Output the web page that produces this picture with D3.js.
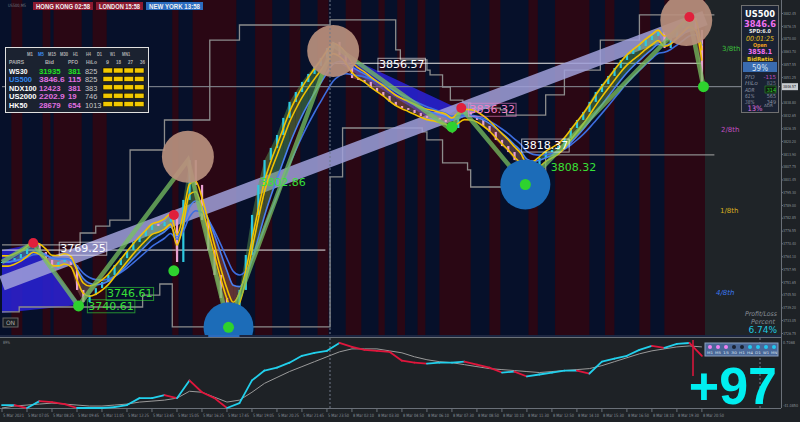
<!DOCTYPE html>
<html><head><meta charset="utf-8">
<script src="https://cdn.jsdelivr.net/npm/d3@7"></script>
<style>body{margin:0;background:#1e2226;overflow:hidden}svg{display:block}</style>
</head><body><svg id="c" width="800" height="422"></svg>
<script>
// ---------- DATA ----------
const closes = [3761.3,3761.3,3763.2,3765.2,3768.1,3770.1,3766.2,3762.3,3758.4,3761.3,
3763.2,3759.8,3747.7,3741.8,3745.2,3748.6,3751.6,3755.0,3759.8,3763.2,
3767.1,3771.0,3774.0,3776.9,3779.8,3778.8,3780.8,3784.2,3761.3,3791.5,
3810.9,3798.8,3781.7,3767.1,3755.0,3743.8,3735.5,3732.1,3747.7,3764.7,
3784.2,3798.8,3810.9,3816.8,3823.1,3831.4,3839.2,3844.0,3848.9,3852.8,
3856.7,3860.6,3865.4,3868.4,3862.0,3857.2,3850.8,3849.9,3848.9,3846.0,
3844.0,3842.1,3839.2,3837.2,3836.2,3835.3,3833.8,3832.3,3831.4,3831.4,
3830.4,3829.4,3826.5,3833.3,3834.3,3832.3,3830.4,3827.5,3824.6,3820.7,
3817.7,3814.8,3810.9,3808.0,3801.2,3808.0,3811.9,3814.8,3815.8,3817.7,
3821.6,3826.5,3830.4,3834.3,3839.2,3844.0,3847.9,3851.8,3855.7,3859.6,
3862.5,3864.5,3866.4,3869.3,3871.3,3873.2,3865.4,3870.3,3875.2,3878.1,
3880.0,3874.2,3846.6];
const barStep = 4;
const priceTicks = [3882.45,3876.15,3870.00,3863.70,3857.55,3851.25,3838.80,3832.65,3826.35,3820.20,3813.90,3807.75,3801.45,3795.30,3789.00,3782.85,3776.55,3770.40,3764.10,3757.95,3751.65,3745.50,3739.20,3733.05,3726.75];
const timeLabels = ["5 Mar 2021","5 Mar 07:05","5 Mar 08:25","5 Mar 09:45","5 Mar 11:05","5 Mar 12:25","5 Mar 13:45","5 Mar 15:05","5 Mar 16:25","5 Mar 17:45","5 Mar 19:05","5 Mar 20:25","5 Mar 21:45","5 Mar 23:50","8 Mar 02:10","8 Mar 03:30","8 Mar 04:50","8 Mar 06:10","8 Mar 07:30","8 Mar 08:50","8 Mar 10:10","8 Mar 11:30","8 Mar 12:50","8 Mar 14:10","8 Mar 15:30","8 Mar 16:50","8 Mar 18:10","8 Mar 19:30","8 Mar 20:50"];
const sessionStripes = [[6,13],[26,31],[33,51],[58,67],[109,113],[122,150],[162,173],[184,191],[202,209],[220,230],[241,245],[253,258],[266,271],[280,300],[312,319],[337,343],[354,376],[386,392],[408,415],[424,450]];
// channel step lines: [startBar, price]
const upperChannel = [[0,3769.6],[50,3775.4],[60,3778.8],[69,3781.7],[82,3815.8],[104,3830.4],[133,3869.3],[152,3876.6],[210,3879.1],[252,3864.5],[255,3859.6],[272,3854.7],[274,3852.3],[282,3846.4],[287,3840.1],[295,3838.7],[300,3836.2],[319,3835.3],[323,3832.8],[348,3842.6],[360,3854.7],[383,3869.3],[408,3881.5],[456,3881.5]];
const lowerChannel = [[0,3737.0],[11,3739.4],[90,3745.2],[101,3750.6],[109,3729.7],[210,3802.7],[218,3826.5],[269,3824.6],[272,3820.7],[282,3809.5],[298,3806.1],[300,3797.8],[348,3813.4],[456,3813.4]];
const zigzag = [[0,3761.3],[20,3770.5],[49,3739.9],[119,3810.9],[145,3730.2],[212,3866.9],[288,3825.5],[294,3836.2],[335,3798.8],[440,3880.5],[449,3846.6]];
const highCircles = [[119,3812.5],[212,3864.0],[438,3879.0]];
const lowCircles = [[145,3729.5],[335,3799.0]];
const highDots = [[20,3770.5],[110,3784.2],[294,3836.2],[440,3880.5]];
const lowDots = [[49,3739.9],[110,3757.0],[145,3729.5],[288,3827.0],[335,3799.0],[449,3846.6]];
const trendLine = [[0,3751.0],[450,3880.0]];
const levelLines = [[0,207,3767.1,"#e8e8e8"],[210,448,3858.0,"#e8e8e8"],[0,498,3846.6,"#8a9099"]];
const priceTags = [[36,3768.0,"3769.25","#ffffff",true],[66,3746.0,"3746.61","#38e038",true],[54,3740.0,"3740.61","#38e038",true],[164,3800.2,"3802.86","#38e038",false],[240,3857.5,"3856.57","#ffffff",true],[298,3835.6,"3836.32","#f080c8",true],[332,3818.2,"3818.37","#ffffff",true],[350,3807.4,"3808.32","#38e038",false]];
const bluePolys = [[[0,3767.0],[20,3770.0],[50,3740.5],[0,3736.5]],[[216,3863.0],[292,3836.0],[278,3829.0],[216,3858.0]]];
const oscMain = [-39.25,-39.25,-41.09,-36.79,-37.40,-38.63,-41.09,-41.09,-41.09,-40.48,-39.25,-34.94,-34.94,-33.10,-34.94,-23.88,-31.26,-34.94,-41.09,-38.02,-23.88,-17.73,-15.89,-12.82,-8.52,-6.67,-5.44,-0.53,-2.98,-4.83,-5.44,-6.06,-11.59,-12.82,-13.43,-12.82,-12.82,-12.20,-14.05,-15.89,-18.96,-18.35,-21.42,-20.19,-18.96,-17.73,-17.73,-19.58,-12.20,-10.36,-8.52,-4.83,-2.37,-3.60,-1.14,-0.53,-8.52];
const oscSignal = [-41.09,-39.86,-39.25,-38.63,-38.02,-38.63,-39.25,-39.86,-39.86,-39.25,-38.63,-37.40,-36.79,-36.17,-34.94,-30.64,-31.26,-34.33,-37.40,-36.17,-31.26,-25.72,-22.04,-18.35,-15.28,-12.20,-9.13,-6.06,-4.21,-4.21,-4.21,-5.44,-6.67,-9.13,-10.97,-12.20,-12.82,-14.05,-15.28,-16.51,-17.12,-17.73,-18.35,-18.96,-18.35,-17.73,-17.12,-16.51,-14.66,-12.20,-9.75,-7.29,-5.44,-4.21,-2.98,-2.37,-2.98];
const oscStep = 8;
const pairs = ["WS30","US500","NDX100","US2000","HK50"];
const bids = ["31935","3846.6","12423","2202.9","28679"];
const pfo = ["381","115","381","19","654"];
const hilo = ["825","825","383","746","1013"];
const tfs = ["M1","M5","M15","M30","H1","H4","D1","W1","MN1"];

// ---------- SETUP ----------
const svg = d3.select("#c");
const plotR = 781, mainBot = 335, subTop = 338, subBot = 408, futureX = 705;
const x = d3.scaleLinear().domain([0,498]).range([2,780]);
const y = d3.scaleLinear().domain([3726.75,3882.45]).range([333,13]);
const yo = d3.scaleLinear().domain([-41.085,0.7068]).range([408,341]);
const F = "'DejaVu Sans', sans-serif";
const FN = "'Liberation Sans', Arial, sans-serif";
function fit(sel,w){sel.attr("textLength",w).attr("lengthAdjust","spacingAndGlyphs");return sel;}

svg.append("rect").attr("width",800).attr("height",422).attr("fill","#1e2226");
svg.append("clipPath").attr("id","mc").append("rect").attr("x",0).attr("y",0).attr("width",plotR).attr("height",mainBot);
const g = svg.append("g").attr("clip-path","url(#mc)");
g.append("rect").attr("width",plotR).attr("height",mainBot).attr("fill","#06102a");
g.selectAll(".st").data(sessionStripes).join("rect").attr("x",d=>x(d[0])).attr("width",d=>x(d[1])-x(d[0])).attr("y",0).attr("height",mainBot).attr("fill","#2a0714");
g.append("rect").attr("x",futureX).attr("width",plotR-futureX).attr("height",mainBot).attr("fill","#1f2428");

// blue fills
g.selectAll(".bp").data(bluePolys).join("path").attr("d",d=>d3.line().x(p=>x(p[0])).y(p=>y(p[1]))(d)+"Z").attr("fill","#2a22d8").attr("opacity",0.85);

// channel step lines
const stepLine = d3.line().x(d=>x(d[0])).y(d=>y(d[1])).curve(d3.curveStepAfter);
[upperChannel,lowerChannel].forEach(c=>g.append("path").attr("d",stepLine(c)).attr("fill","none").attr("stroke","#8c8c8c").attr("stroke-width",1.3));

// level lines
g.selectAll(".lv").data(levelLines).join("line").attr("x1",d=>x(d[0])).attr("x2",d=>x(d[1])).attr("y1",d=>y(d[2])).attr("y2",d=>y(d[2])).attr("stroke",d=>d[3]).attr("stroke-width",1);

// trend band
g.append("line").attr("x1",x(trendLine[0][0])).attr("y1",y(trendLine[0][1])).attr("x2",x(trendLine[1][0])).attr("y2",y(trendLine[1][1])).attr("stroke","#a0a0da").attr("stroke-width",15).attr("opacity",0.85);

// EMAs
function ema(arr,n){const k=2/(n+1);let out=[];arr.forEach((v,i)=>out.push(i?out[i-1]+k*(v-out[i-1]):v));return out;}
const e3=ema(closes,3), e6=ema(closes,6), e9=ema(closes,9);
for(let i=1;i<closes.length;i++){
  const up = closes[i]>=e6[i];
  g.append("path").attr("d",`M${x((i-1)*barStep)},${y(closes[i-1])}L${x(i*barStep)},${y(closes[i])}L${x(i*barStep)},${y(e6[i])}L${x((i-1)*barStep)},${y(e6[i-1])}Z`)
   .attr("fill",up?"#5aa050":"#a06a5a").attr("opacity",0.45);
}
// candles
g.selectAll(".cd").data(closes).join("rect")
 .attr("x",(d,i)=>x(i*barStep)-1).attr("width",2.2)
 .attr("y",(d,i)=>y(Math.max(d,closes[Math.max(0,i-1)])))
 .attr("height",(d,i)=>Math.max(1,Math.abs(y(d)-y(closes[Math.max(0,i-1)]))))
 .attr("fill",(d,i)=>d>=closes[Math.max(0,i-1)]?"#2ec8e0":"#e8a0d0");
const ml = d3.line().x((d,i)=>x(i*barStep)).y(d=>y(d)).curve(d3.curveMonotoneX);
g.append("path").attr("d",ml(e9)).attr("fill","none").attr("stroke","#3d6ee0").attr("stroke-width",1.6);
g.append("path").attr("d",ml(e6)).attr("fill","none").attr("stroke","#4a80f0").attr("stroke-width",1.6);
g.append("path").attr("d",ml(e3.map(v=>v+3))).attr("fill","none").attr("stroke","#f2c200").attr("stroke-width",1.6);
g.append("path").attr("d",ml(e3.map(v=>v-2))).attr("fill","none").attr("stroke","#f2c200").attr("stroke-width",1.6);

// zigzag
g.append("path").attr("d",d3.line().x(d=>x(d[0])).y(d=>y(d[1]))(zigzag)).attr("fill","none").attr("stroke","#78c060").attr("stroke-width",4.5).attr("opacity",0.75);

// circles
g.selectAll(".hc").data(highCircles).join("circle").attr("cx",d=>x(d[0])).attr("cy",d=>y(d[1])).attr("r",26).attr("fill","#b8907e").attr("opacity",0.92);
g.selectAll(".lc").data(lowCircles).join("circle").attr("cx",d=>x(d[0])).attr("cy",d=>y(d[1])).attr("r",25).attr("fill","#1c6cb8");
g.selectAll(".hd").data(highDots).join("circle").attr("cx",d=>x(d[0])).attr("cy",d=>y(d[1])).attr("r",5).attr("fill","#e0203c");
g.selectAll(".ld").data(lowDots).join("circle").attr("cx",d=>x(d[0])).attr("cy",d=>y(d[1])).attr("r",5.5).attr("fill","#2ed22e");

// price tags
priceTags.forEach(t=>{
  const tx=x(t[0]), ty=y(t[1]);
  const txt=g.append("text").attr("x",tx+2).attr("y",ty+4).attr("fill",t[3]).attr("font-family",F).attr("font-size",11).text(t[2]);
  if(t[4]){const bb=txt.node().getBBox();g.insert("rect","text").attr("x",bb.x-1).attr("y",bb.y).attr("width",bb.width+2).attr("height",bb.height).attr("fill","none").attr("stroke",t[3]).attr("stroke-opacity",0.6);}
});

// right side labels
const rl=[["3/8th",722,51,"#3cc03c"],["2/8th",721,132,"#c050c0"],["1/8th",720,213,"#d8b020"],["4/8th",716,295,"#3a78f0"]];
rl.forEach(r=>g.append("text").attr("x",r[1]).attr("y",r[2]).attr("fill",r[3]).attr("font-family",F).attr("font-size",7).attr("font-style",r[0]=="4/8th"?"italic":"normal").text(r[0]));
fit(g.append("text").attr("x",745).attr("y",316).attr("fill","#8a9099").attr("font-family",F).attr("font-style","italic").attr("font-size",6.5).text("Profit/Loss"),32);
fit(g.append("text").attr("x",751).attr("y",324).attr("fill","#8a9099").attr("font-family",F).attr("font-style","italic").attr("font-size",6.5).text("Percent"),24);
g.append("text").attr("x",777).attr("y",333).attr("text-anchor","end").attr("fill","#20c8e0").attr("font-family",F).attr("font-size",9).text("6.74%");

// ON button
g.append("rect").attr("x",3).attr("y",318).attr("width",15).attr("height",9).attr("fill","#1a1d22").attr("stroke","#666");
g.append("text").attr("x",10.5).attr("y",325).attr("text-anchor","middle").attr("fill","#aaa").attr("font-family",F).attr("font-size",6).text("ON");

// pairs table
const tb=g.append("g");
tb.append("rect").attr("x",5.5).attr("y",47.5).attr("width",143).attr("height",65).attr("fill","#1b2230").attr("stroke","#e0e0e0");
const tfx=[27,38,48,60,73,86,97,110,122];
const tfw=[6,6,8,8,5,5,5,5,8];
tfs.forEach((t,i)=>fit(tb.append("text").attr("x",tfx[i]).attr("y",56).attr("fill",t=="M5"?"#3b8ff0":"#b0b0b0").attr("font-family",FN).attr("font-size",6).attr("font-weight","bold").text(t),tfw[i]));
[["PAIRS",9,15],["Bid",45,9],["PFO",68,10],["HiLo",86,11],["9",106,3],["18",116,5],["27",128,5],["36",140,5]].forEach(h=>fit(tb.append("text").attr("x",h[1]).attr("y",64).attr("fill","#b0b0b0").attr("font-family",FN).attr("font-size",6).attr("font-weight","bold").text(h[0]),h[2]));
pairs.forEach((p,i)=>{
  const yy=74+i*8.4;
  fit(tb.append("text").attr("x",9).attr("y",yy).attr("fill",i==1?"#2f86f0":"#ffffff").attr("font-family",FN).attr("font-weight","bold").attr("font-size",8).text(p),p.length*4.6);
  fit(tb.append("text").attr("x",39).attr("y",yy).attr("fill",i==0?"#22e022":"#e070e0").attr("font-family",FN).attr("font-weight","bold").attr("font-size",8).text(bids[i]),bids[i].length*4.3);
  fit(tb.append("text").attr("x",68).attr("y",yy).attr("fill",i==0?"#22e022":"#e070e0").attr("font-family",FN).attr("font-weight","bold").attr("font-size",8).text(pfo[i]),pfo[i].length*4.3);
  fit(tb.append("text").attr("x",85).attr("y",yy).attr("fill","#c8c8c8").attr("font-family",FN).attr("font-size",8).text(hilo[i]),hilo[i].length*4.1);
  for(let j=0;j<4;j++) tb.append("rect").attr("x",103+j*10.5).attr("y",yy-6).attr("width",9.5).attr("height",5).attr("fill","#f2c800").attr("stroke","#000").attr("stroke-width",0.5);
});

// info box
const ib=g.append("g");
ib.append("rect").attr("x",741.5).attr("y",5.5).attr("width",37).attr("height",107).attr("fill","#1a2233").attr("stroke","#707070");
const it=(t,xx,yy,c,s,opt={})=>{const e=ib.append("text").attr("x",xx).attr("y",yy).attr("text-anchor",opt.a||"middle").attr("fill",c).attr("font-family",opt.f||F).attr("font-size",s).attr("font-weight",opt.w||"normal").attr("font-style",opt.i?"italic":"normal").text(t); if(opt.l) fit(e,opt.l); return e;};
it("US500",760,17,"#ffffff",9,{w:"bold",l:30});
it("3846.6",760,27,"#f070f0",9,{w:"bold",l:32});
it("SPD:6.0",760,33,"#e8e8e8",5.5,{w:"bold",l:22});
it("00:01:25",760,41,"#e8c020",7,{i:true,l:28});
it("Open",760,47,"#f0a020",5.5,{w:"bold",l:14});
it("3858.1",760,54,"#f070f0",7,{w:"bold",l:24});
ib.append("rect").attr("x",742).attr("y",56).attr("width",36).attr("height",6).attr("fill","#20242c");
it("BidRatio",760,61,"#e8c020",5.5,{w:"bold",l:26});
ib.append("rect").attr("x",743).attr("y",62).attr("width",34).attr("height",10).attr("fill","#3a6cb0");
it("59%",760,70.5,"#d8e4f4",8.5,{l:16});
[["PFO","-115","#c050c0",79],["HiLo","825","#707888",85],["ADR","314","#30d030",91.5],["61%","565","#8890a0",98],["38%","349","#8890a0",104]].forEach(r=>{
  it(r[0],745,r[3],"#8890a0",5.5,{a:"start",i:true,l:r[0].length*3.2});
  if(r[0]=="ADR") ib.append("rect").attr("x",765).attr("y",r[3]-5.5).attr("width",11).attr("height",7).attr("fill","#102010").attr("stroke","#30a030").attr("stroke-width",0.5);
  it(r[1],776,r[3],r[2],5.5,{a:"end",l:r[1].length*3.1});
});
it("13%",755,111,"#e070e0",7.5,{l:15});
it("ADR",764,107,"#8890a0",4,{a:"start",l:9});

// dashed separator
g.append("line").attr("x1",330).attr("x2",330).attr("y1",0).attr("y2",mainBot).attr("stroke","#707888").attr("stroke-dasharray","2,2");

// top status bar
fit(svg.append("text").attr("x",8).attr("y",7).attr("fill","#707880").attr("font-family",F).attr("font-size",4.5).text("US500,M5"),18);
[["HONG KONG 02:58",33,60,"#8b1a30"],["LONDON 15:58",96,47,"#8b1a30"],["NEW YORK 13:58",146,57,"#2a6cc0"]].forEach(b=>{
  svg.append("rect").attr("x",b[1]).attr("y",2).attr("width",b[2]).attr("height",8).attr("fill",b[3]);
  fit(svg.append("text").attr("x",b[1]+3).attr("y",8.5).attr("fill","#f0f0f0").attr("font-family",FN).attr("font-weight","bold").attr("font-size",6.5).text(b[0]),b[2]-6);
});

// main right axis
svg.append("line").attr("x1",plotR+0.5).attr("x2",plotR+0.5).attr("y1",0).attr("y2",subBot).attr("stroke","#6a7078");
const ax=d3.axisRight(y).tickValues(priceTicks).tickSize(2).tickPadding(0).tickFormat(d3.format(".2f"));
const axg=svg.append("g").attr("transform",`translate(${plotR},0)`).call(ax);
axg.select(".domain").remove();
axg.selectAll("text").attr("fill","#8a9099").attr("font-family",F).attr("font-size",4).attr("textLength",13).attr("lengthAdjust","spacingAndGlyphs");
axg.selectAll("line").attr("stroke","#6a7078");
svg.append("rect").attr("x",782).attr("y",y(3846.6)-3.5).attr("width",16).attr("height",7).attr("fill","#c8ccd0");
fit(svg.append("text").attr("x",783).attr("y",y(3846.6)+1.6).attr("fill","#1e2226").attr("font-family",F).attr("font-size",4).text("3846.57"),13);

// separator between panels
svg.append("rect").attr("x",0).attr("y",mainBot).attr("width",plotR).attr("height",2).attr("fill","#1b2540");
svg.append("rect").attr("x",x(132)).attr("y",mainBot).attr("width",x(152)-x(132)).attr("height",2).attr("fill","#2a6cc0");
svg.append("line").attr("x1",0).attr("x2",plotR).attr("y1",subTop-0.5).attr("y2",subTop-0.5).attr("stroke","#6a7078");
svg.append("line").attr("x1",0).attr("x2",plotR).attr("y1",subBot+0.5).attr("y2",subBot+0.5).attr("stroke","#6a7078");

// oscillator panel
const sg=svg.append("g");
sg.append("line").attr("x1",330).attr("x2",330).attr("y1",subTop).attr("y2",subBot).attr("stroke","#707888").attr("stroke-dasharray","2,2");
sg.append("line").attr("x1",760).attr("x2",760).attr("y1",subTop).attr("y2",subBot).attr("stroke","#707888").attr("stroke-dasharray","2,2");
sg.append("path").attr("d",d3.line().x((d,i)=>x(i*oscStep)).y(d=>yo(d))(oscSignal)).attr("fill","none").attr("stroke","#9a9a9a").attr("stroke-width",1);
for(let i=1;i<oscMain.length;i++){
  sg.append("line").attr("x1",x((i-1)*oscStep)).attr("y1",yo(oscMain[i-1])).attr("x2",x(i*oscStep)).attr("y2",yo(oscMain[i]))
    .attr("stroke",oscMain[i]>=oscMain[i-1]?"#22d0ec":"#e0163c").attr("stroke-width",1.8).attr("stroke-linecap","round");
}
sg.append("line").attr("x1",693).attr("x2",693).attr("y1",340).attr("y2",376).attr("stroke","#e0163c").attr("stroke-width",1.5);
fit(sg.append("text").attr("x",3).attr("y",344).attr("fill","#8a9099").attr("font-family",F).attr("font-size",4.5).text("89%"),7);
fit(sg.append("text").attr("x",783).attr("y",344).attr("fill","#8a9099").attr("font-family",F).attr("font-size",4).text("0.7068"),12);
fit(sg.append("text").attr("x",783).attr("y",407).attr("fill","#8a9099").attr("font-family",F).attr("font-size",4).text("-41.0850"),15);
// legend box
sg.append("rect").attr("x",705).attr("y",343).attr("width",73).attr("height",13).attr("fill","#4a6898").attr("stroke","#8aa0c0");
tfs.forEach((t,i)=>{
  const cx=710+i*8;
  sg.append("circle").attr("cx",cx).attr("cy",347).attr("r",2).attr("fill",i<3?"#f080f0":(i<5?"#1a2233":"#22c8f0"));
  fit(sg.append("text").attr("x",cx-3).attr("y",354).attr("fill","#dde4f0").attr("font-family",F).attr("font-size",3.5).text(t=="M15"?"15":t=="M30"?"30":t=="MN1"?"MN":t),6);
});
sg.append("text").attr("x",777).attr("y",404).attr("text-anchor","end").attr("fill","#00eef0").attr("font-family",FN).attr("font-weight","bold").attr("font-size",52).text("+97");

// time axis
const tg=svg.append("g");
timeLabels.forEach((t,i)=>{
  const tx=x(i*16);
  tg.append("line").attr("x1",tx).attr("x2",tx).attr("y1",subBot+1).attr("y2",subBot+4).attr("stroke","#6a7078");
  fit(tg.append("text").attr("x",tx+1).attr("y",417).attr("fill","#8a9099").attr("font-family",F).attr("font-size",4.5).text(t),21);
});
</script></body></html>
